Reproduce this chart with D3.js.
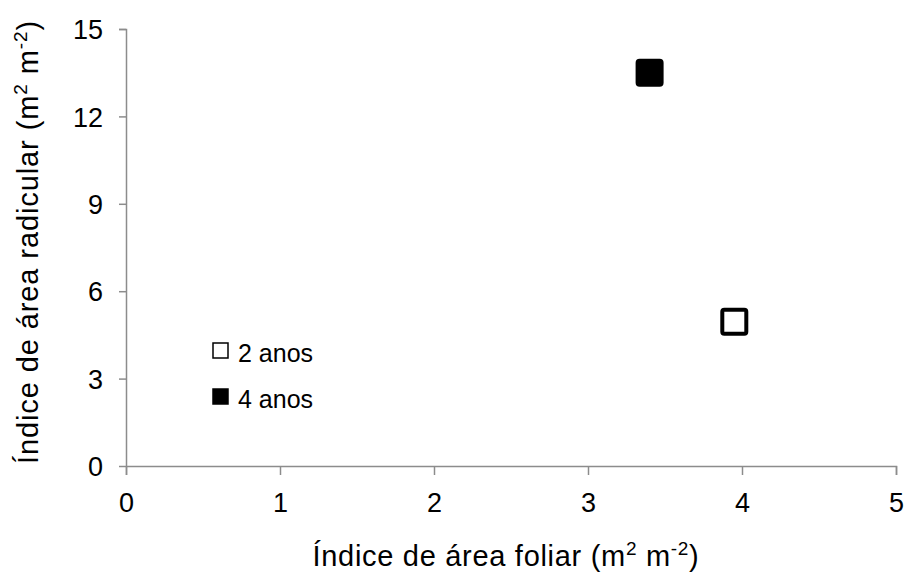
<!DOCTYPE html>
<html>
<head>
<meta charset="utf-8">
<script src="https://cdn.jsdelivr.net/npm/d3@7"></script>
<style>
  body { margin: 0; background: #fff; }
  svg text { font-family: "Liberation Sans", Arial, sans-serif; fill: #000; }
</style>
</head>
<body>
<div id="chart"></div>
<script>
// data
const seriesNames = ["2 anos", "4 anos"];
const foliar = [3.95, 3.4];     // Índice de área foliar
const radicular = [4.95, 13.5]; // Índice de área radicular
const xTicks = [0, 1, 2, 3, 4, 5];
const yTicks = [0, 3, 6, 9, 12, 15];

const width = 904, height = 573;
const margin = { top: 29, right: 8, bottom: 107, left: 126 };
const w = width - margin.left - margin.right;
const h = height - margin.top - margin.bottom;
const axisColor = "#8c8c8c";

const svg = d3.select("#chart").append("svg")
  .attr("width", width)
  .attr("height", height);

const g = svg.append("g")
  .attr("transform", "translate(" + margin.left + "," + margin.top + ")");

const x = d3.scaleLinear().domain([0, 5]).range([0, w]);
const y = d3.scaleLinear().domain([0, 15]).range([h, 0]);

// y axis
const yAxis = g.append("g")
  .call(d3.axisLeft(y).tickValues(yTicks).tickSize(7).tickPadding(16).tickFormat(d3.format("d")));
yAxis.select(".domain").attr("d", "M-7,0.5H0.5V" + (h + 9));
yAxis.selectAll("line").attr("stroke", axisColor).attr("stroke-width", 1.5);
yAxis.select(".domain").attr("stroke", axisColor).attr("stroke-width", 1.5);
yAxis.selectAll("text").attr("font-size", 27).attr("dy", "0.36em");

// x axis
const xAxis = g.append("g")
  .attr("transform", "translate(0," + h + ")")
  .call(d3.axisBottom(x).tickValues(xTicks).tickSize(9).tickPadding(18).tickFormat(d3.format("d")));
xAxis.select(".domain").attr("d", "M0,0.5H" + (w + 0.5) + "V9");
xAxis.selectAll("line").attr("stroke", axisColor).attr("stroke-width", 1.5);
xAxis.select(".domain").attr("stroke", axisColor).attr("stroke-width", 1.5);
xAxis.selectAll("text").attr("font-size", 27);

// axis titles
function title(sel, label) {
  sel.append("tspan").text(label + " (m");
  sel.append("tspan").attr("font-size", 19).attr("dy", -11).text("2");
  sel.append("tspan").attr("dy", 11).text(" m");
  sel.append("tspan").attr("font-size", 19).attr("dy", -11).text("-2");
  sel.append("tspan").attr("dy", 11).text(")");
}

const xTitle = svg.append("text")
  .attr("x", 506)
  .attr("y", 566)
  .attr("text-anchor", "middle")
  .attr("font-size", 29)
  .attr("letter-spacing", 0.7);
title(xTitle, "Índice de área foliar");

const yTitle = svg.append("text")
  .attr("transform", "translate(38,242) rotate(-90)")
  .attr("text-anchor", "middle")
  .attr("font-size", 29)
  .attr("letter-spacing", 0.9);
title(yTitle, "Índice de área radicular");

// points
const pts = seriesNames.map((s, i) => ({ name: s, fx: foliar[i], ry: radicular[i], filled: i === 1 }));

g.selectAll("rect.pt")
  .data(pts)
  .join("rect")
  .attr("class", "pt")
  .attr("x", d => x(d.fx) - 12)
  .attr("y", d => y(d.ry) - 12)
  .attr("width", 24)
  .attr("height", 24)
  .attr("rx", 2)
  .attr("fill", d => d.filled ? "#000" : "#fff")
  .attr("stroke", "#000")
  .attr("stroke-width", 4);

// legend
const legend = svg.append("g").attr("transform", "translate(212,342)");
const item = legend.selectAll("g")
  .data(pts)
  .join("g")
  .attr("transform", (d, i) => "translate(0," + (i * 46) + ")");
item.append("rect")
  .attr("x", 1).attr("y", 1)
  .attr("width", 15).attr("height", 15)
  .attr("fill", d => d.filled ? "#000" : "#fff")
  .attr("stroke", "#000")
  .attr("stroke-width", 1.5);
item.append("text")
  .attr("x", 26)
  .attr("y", 20)
  .attr("font-size", 25)
  .text(d => d.name);
</script>
</body>
</html>
